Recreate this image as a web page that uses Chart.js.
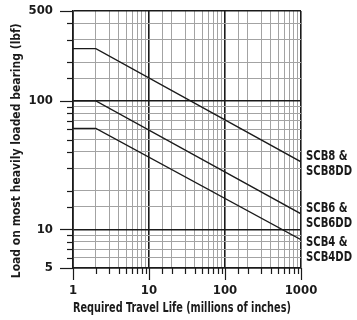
<!DOCTYPE html>
<html>
<head>
<meta charset="utf-8">
<script src="https://cdn.jsdelivr.net/npm/chart.js@4.4.1/dist/chart.umd.min.js"></script>
<style>
  html, body { margin: 0; padding: 0; background: #fff; }
  #wrap { width: 357px; height: 320px; position: relative; }
</style>
</head>
<body>
<div id="wrap"><canvas id="c" width="357" height="320"></canvas></div>
<script>
// ---- data ----
const travelLife = [1, 2, 1000];               // millions of inches
const scb8 = [255, 255, 33.5];                 // lbf
const scb6 = [100, 100, 13.2];
const scb4 = [61, 61, 8.3];
const seriesLabels = [['SCB8 &', 'SCB8DD'], ['SCB6 &', 'SCB6DD'], ['SCB4 &', 'SCB4DD']];
const xTickLabels = [1, 10, 100, 1000];
const yTickLabels = [5, 10, 100, 500];
const xTitle = 'Required Travel Life (millions of inches)';
const yTitle = 'Load on most heavily loaded bearing (lbf)';

const FONT = "'DejaVu Sans Condensed', 'Liberation Sans Narrow', sans-serif";
const DARK = '#1a1a1a';
const MINOR = '#a3a3a3';

function isMajor(v, labels) { return labels.indexOf(v) >= 0 || Math.abs(Math.log10(v) - Math.round(Math.log10(v))) < 1e-9; }

const tickMarks = {
  id: 'tickMarks',
  afterDraw(chart) {
    const c = chart.ctx, xs = chart.scales.x, ys = chart.scales.y, a = chart.chartArea;
    c.save();
    c.strokeStyle = DARK;
    c.lineWidth = 1.2;
    xs.ticks.forEach(t => {
      const px = Math.round(xs.getPixelForValue(t.value)) + 0.5;
      const len = xTickLabels.includes(t.value) ? 12 : 6;
      c.beginPath(); c.moveTo(px, a.bottom); c.lineTo(px, a.bottom + len); c.stroke();
    });
    ys.ticks.forEach(t => {
      const py = Math.round(ys.getPixelForValue(t.value)) + 0.5;
      const len = yTickLabels.includes(t.value) ? 13 : 6;
      c.beginPath(); c.moveTo(a.left, py); c.lineTo(a.left - len, py); c.stroke();
    });
    // series labels at right (condensed)
    c.fillStyle = DARK;
    c.font = 'bold 14px ' + FONT;
    c.textBaseline = 'middle';
    c.textAlign = 'left';
    let prev = -Infinity;
    chart.data.datasets.forEach((ds, i) => {
      const lastY = ys.getPixelForValue(ds.data[ds.data.length - 1]);
      const center = Math.max(lastY + 2, prev + 34);
      prev = center;
      const lines = seriesLabels[i];
      const x0 = a.right + 5;
      c.save();
      c.translate(x0, 0);
      c.scale(0.8, 1);
      c.fillText(lines[0], 0, center - 7.5);
      c.fillText(lines[1], 0, center + 7.5);
      c.restore();
    });
    c.restore();
  }
};

function gridColor(labels) {
  return ctx => {
    const v = ctx.tick ? ctx.tick.value : 0;
    return isMajor(v, labels) ? DARK : MINOR;
  };
}
function gridWidth(labels) {
  return ctx => {
    const v = ctx.tick ? ctx.tick.value : 0;
    return isMajor(v, labels) ? 1.6 : 1;
  };
}

const mk = (label, arr) => ({
  label,
  data: arr,
  borderColor: DARK,
  borderWidth: 1.3,
  pointRadius: 0,
  tension: 0,
  fill: false
});

new Chart(document.getElementById('c'), {
  type: 'line',
  data: {
    labels: travelLife,
    datasets: [mk('SCB8', scb8), mk('SCB6', scb6), mk('SCB4', scb4)]
  },
  options: {
    responsive: false,
    animation: false,
    devicePixelRatio: 1,
    layout: { padding: { left: 0, right: 56, top: 11, bottom: 0 } },
    plugins: { legend: { display: false }, tooltip: { enabled: false } },
    scales: {
      x: {
        type: 'logarithmic',
        min: 1, max: 1000,
        afterFit: s => { s.height = 52; s.paddingLeft = 0; s.paddingRight = 0; },
        grid: { color: gridColor(xTickLabels), lineWidth: gridWidth(xTickLabels), drawTicks: false },
        border: { display: true, color: DARK, width: 1.6 },
        ticks: {
          autoSkip: false, maxRotation: 0, padding: 15,
          color: DARK,
          font: { family: FONT, weight: 'bold', size: 13 },
          callback: v => xTickLabels.includes(v) ? String(v) : ''
        },
        title: { display: true, text: xTitle + '   ', color: DARK, font: { family: FONT, weight: 'bold', size: 14 }, padding: { top: 2, bottom: 3 } }
      },
      y: {
        type: 'logarithmic',
        min: 5, max: 500,
        afterFit: s => { s.width = 73; s.paddingTop = 0; s.paddingBottom = 0; },
        grid: { color: gridColor(yTickLabels), lineWidth: gridWidth(yTickLabels), drawTicks: false },
        border: { display: true, color: DARK, width: 1.6 },
        ticks: {
          autoSkip: false, padding: 20,
          color: DARK,
          font: { family: FONT, weight: 'bold', size: 13 },
          callback: v => yTickLabels.includes(v) ? String(v) : ''
        },
        title: { display: true, text: yTitle + '      ', color: DARK, font: { family: FONT, weight: 'bold', size: 12 }, padding: { top: 10, bottom: 0 } }
      }
    }
  },
  plugins: [tickMarks]
});
</script>
</body>
</html>
